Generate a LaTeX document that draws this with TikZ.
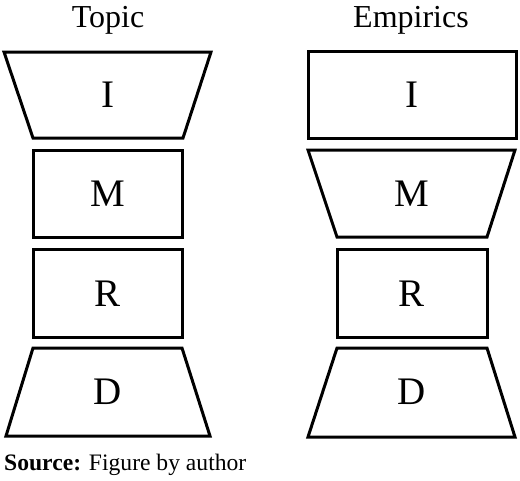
\documentclass[tikz,border=0pt]{standalone}
\usepackage{fontspec}
\setmainfont{Liberation Serif}
\begin{document}
\begin{tikzpicture}[x=1pt,y=-1pt,
  shp/.style={draw=black,line width=3pt,line join=miter},
  lbl/.style={font=\fontsize{39}{44}\selectfont,inner sep=0pt},
  ttl/.style={font=\fontsize{32}{36}\selectfont,inner sep=0pt,anchor=base}]
\useasboundingbox (0,0) rectangle (520,480);
% Topic column
\node[ttl] (t1) at (108,27) {Topic};
\draw[shp] (4,52) -- (211,52) -- (183,138) -- (33,138) -- cycle;
\node[lbl] (ti) at (108,95) {I};
\draw[shp] (33,150) rectangle (182,237);
\node[lbl] (tm) at (108,194) {M};
\draw[shp] (33,249) rectangle (182,337);
\node[lbl] (tr) at (108,294) {R};
\draw[shp] (33,348) -- (182,348) -- (210,436) -- (6,436) -- cycle;
\node[lbl] (td) at (108,392) {D};
% Empirics column
\node[ttl] (t2) at (411,27) {Empirics};
\draw[shp] (308,51) rectangle (516,138);
\node[lbl] (ei) at (412,95) {I};
\draw[shp] (308,150) -- (515,150) -- (487,237) -- (337,237) -- cycle;
\node[lbl] (em) at (412,194) {M};
\draw[shp] (337,249) rectangle (487,337);
\node[lbl] (er) at (412,294) {R};
\draw[shp] (337,348) -- (487,348) -- (515,437) -- (308,437) -- cycle;
\node[lbl] (ed) at (412,392) {D};
% Source
\node[font=\fontsize{23.6}{28}\selectfont,inner sep=0pt,anchor=base west] (src) at (4,470) {\textbf{Source:} Figure by author};
\end{tikzpicture}
\end{document}
